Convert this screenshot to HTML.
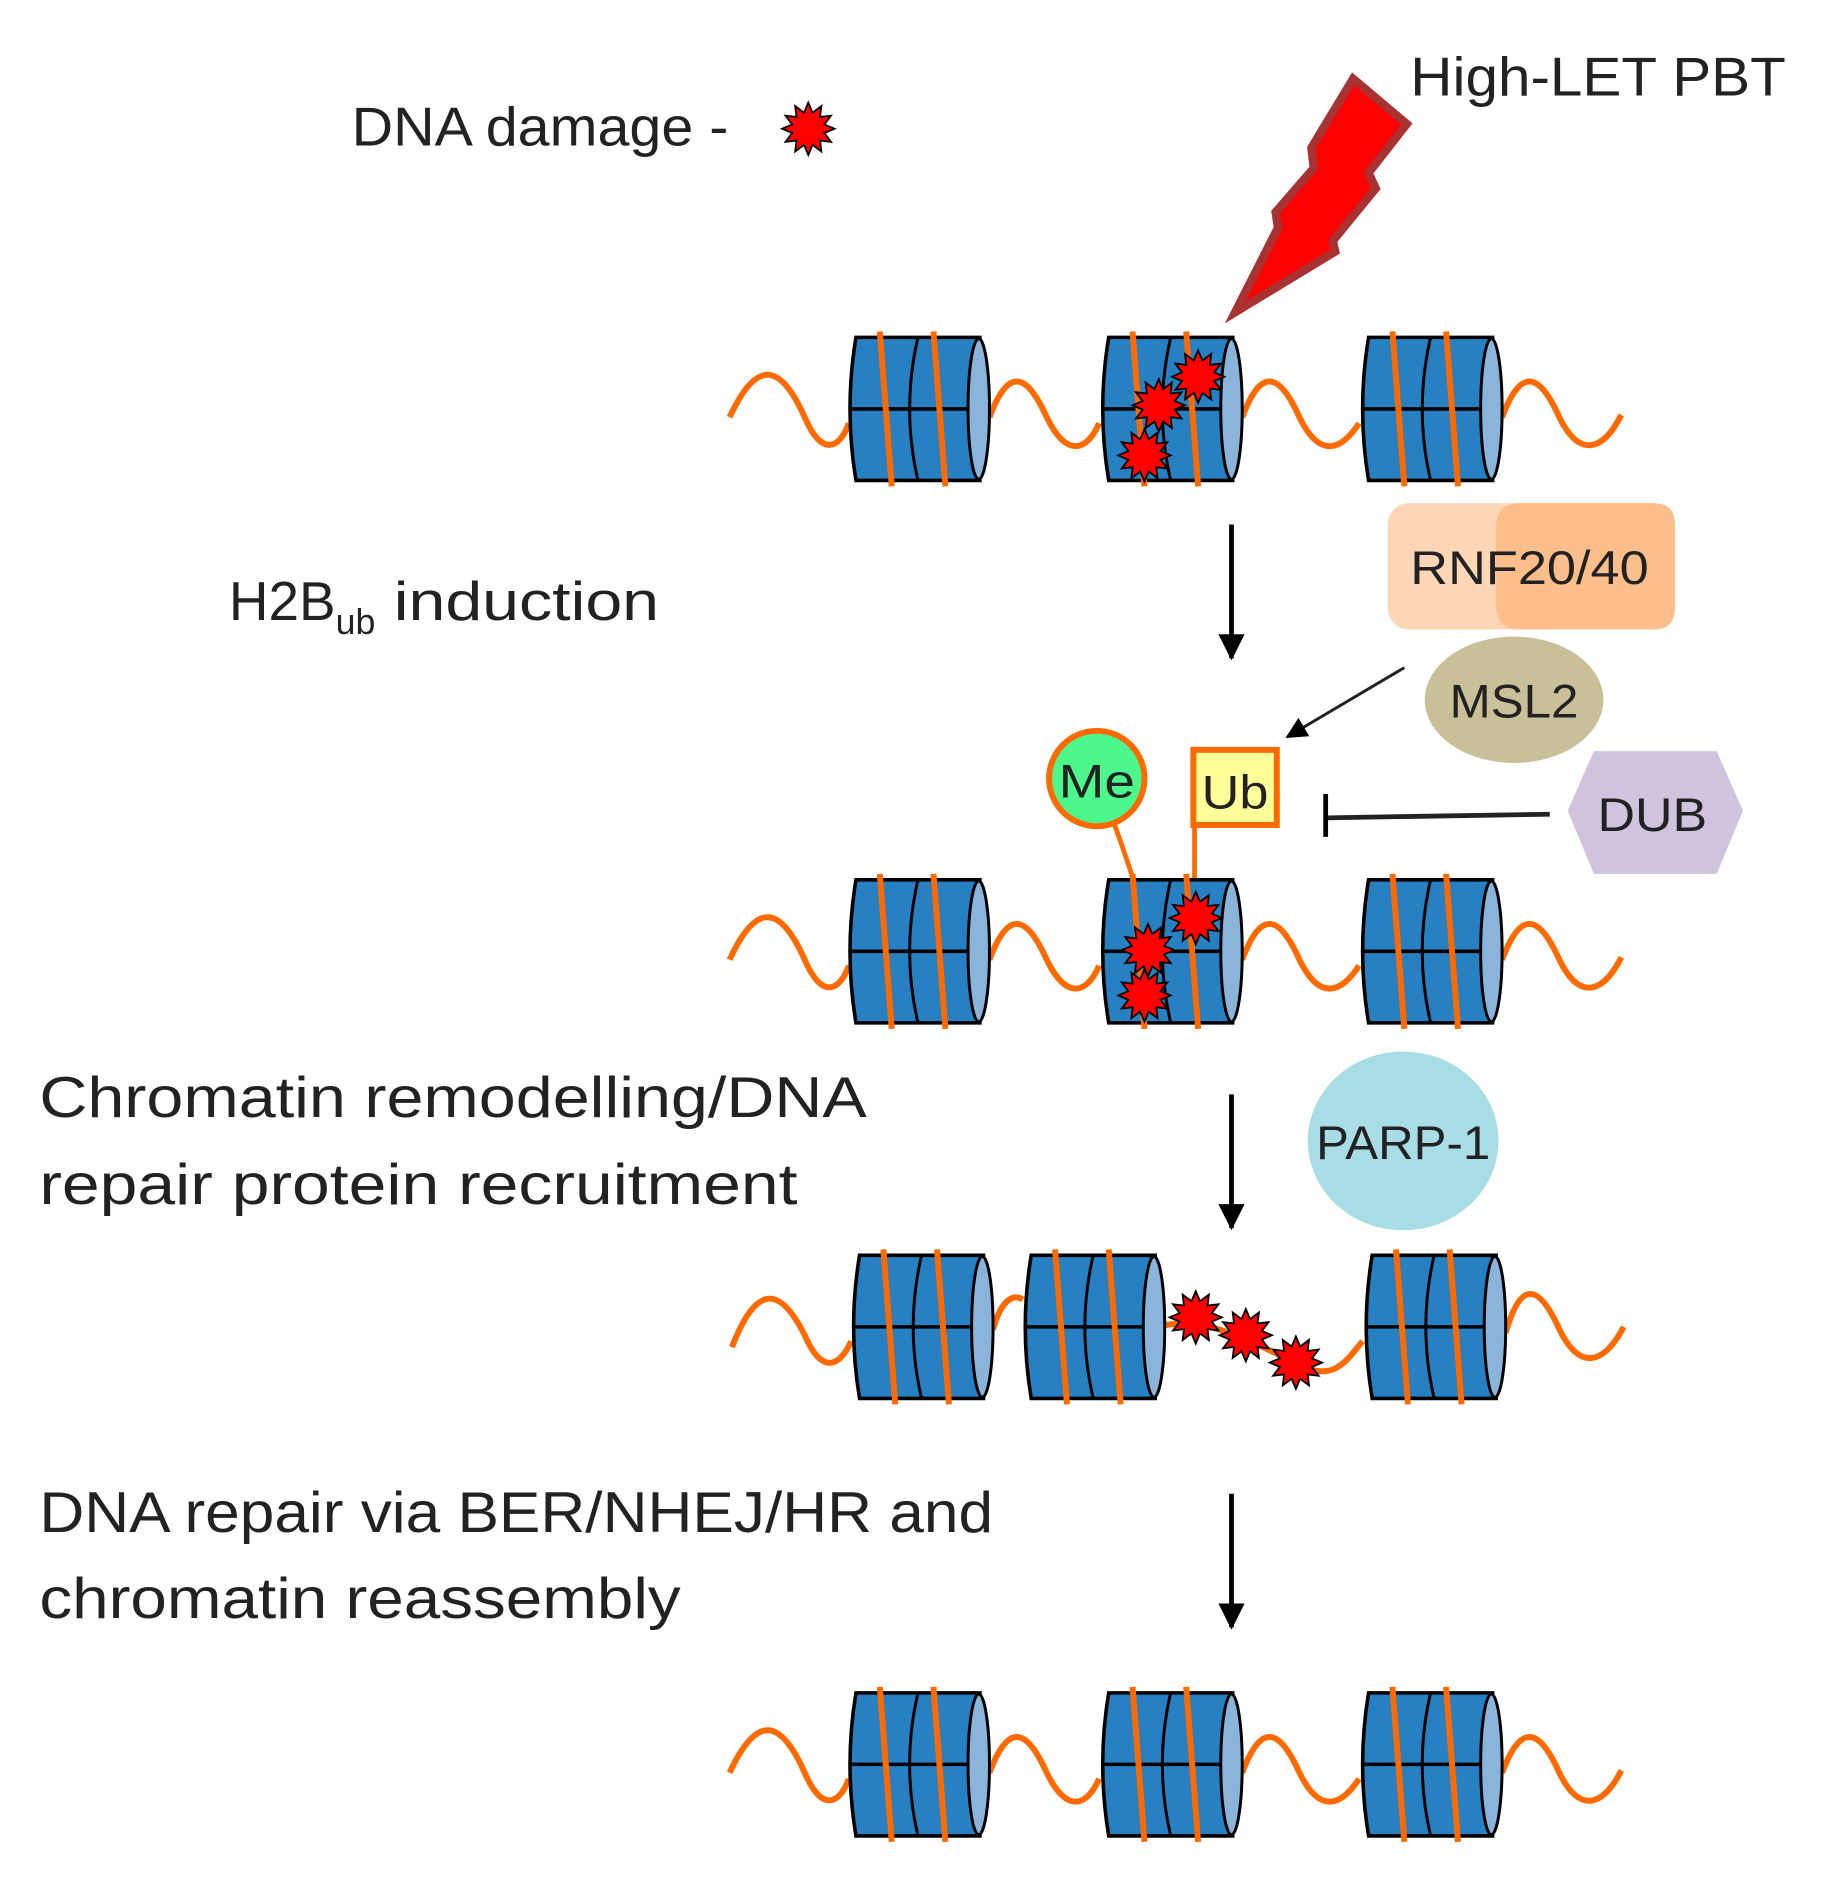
<!DOCTYPE html>
<html><head><meta charset="utf-8"><style>
html,body{margin:0;padding:0;background:#fff;}
svg{display:block;}
text{font-family:"Liberation Sans",sans-serif;fill:#222;}
</style></head><body>
<svg width="1824" height="1886" viewBox="0 0 1530 1582" xmlns="http://www.w3.org/2000/svg">
<defs>
<g id="nuc">
<path d="M8,0 H112 V120 H8 Q-2,60 8,0 Z" fill="#2680c2" stroke="#000" stroke-width="3"/>
<path d="M60,0 Q46,60 60,120" fill="none" stroke="#000" stroke-width="2.5"/>
<line x1="2" y1="60" x2="106" y2="60" stroke="#000" stroke-width="3"/>
<ellipse cx="111" cy="60" rx="9" ry="59" fill="#8ab4da" stroke="#000" stroke-width="2.5"/>
<line x1="28" y1="-5" x2="38" y2="125" stroke="#ff6a00" stroke-width="5"/>
<line x1="73" y1="-5" x2="83" y2="125" stroke="#ff6a00" stroke-width="5"/>
</g>
<polygon id="star" points="22,0 13.5,3.6 19.1,11 9.9,9.9 11,19.1 3.6,13.5 0,22 -3.6,13.5 -11,19.1 -9.9,9.9 -19.1,11 -13.5,3.6 -22,0 -13.5,-3.6 -19.1,-11 -9.9,-9.9 -11,-19.1 -3.6,-13.5 0,-22 3.6,-13.5 11,-19.1 9.9,-9.9 19.1,-11 13.5,-3.6" fill="#f00" stroke="#000" stroke-width="1.5"/>
<marker id="ah" markerWidth="22" markerHeight="26" refX="20" refY="11" orient="auto" markerUnits="userSpaceOnUse" viewBox="0 0 22 22"><path d="M0,0 L22,11 L0,22 Z" fill="#000"/></marker>
<marker id="ah2" markerWidth="18" markerHeight="18" refX="16" refY="9" orient="auto" markerUnits="userSpaceOnUse" viewBox="0 0 18 18"><path d="M0,0 L18,9 L0,18 Z" fill="#000"/></marker>
</defs>

<text x="295" y="122" font-size="46" textLength="316" lengthAdjust="spacingAndGlyphs">DNA damage -</text>
<use href="#star" x="678" y="108"/>
<text x="1183" y="80" font-size="46" textLength="315" lengthAdjust="spacingAndGlyphs">High-LET PBT</text>

<polygon points="1135,66 1180,104 1148,145 1154,158 1118,202 1120,211 1036,262 1072,191 1070,178 1102,141 1100,124" fill="#f00" stroke="#a83232" stroke-width="7" stroke-linejoin="miter"/>

<!-- Row 1 -->
<g fill="none" stroke="#ff6a00" stroke-width="5">
<path d="M612,350 C635,300 655,305 675,350 C690,385 705,375 712,355"/>
<path d="M830,350 C845,310 860,310 878,350 C895,385 912,378 922,355"/>
<path d="M1042,350 C1057,310 1072,310 1090,350 C1107,385 1125,378 1140,355"/>
<path d="M1260,350 C1275,310 1290,310 1308,350 C1325,385 1345,378 1360,348"/>
</g>
<use href="#nuc" x="710" y="283"/><use href="#nuc" x="922" y="283"/><use href="#nuc" x="1140" y="283"/>
<use href="#star" x="1005" y="316"/><use href="#star" x="972" y="340"/><use href="#star" x="960" y="382"/>

<line x1="1033" y1="440" x2="1033" y2="552" stroke="#000" stroke-width="4" marker-end="url(#ah)"/>
<text x="192" y="520" font-size="46">H2B<tspan font-size="30" dy="12">ub</tspan><tspan dy="-12" textLength="238" lengthAdjust="spacingAndGlyphs"> induction</tspan></text>

<rect x="1164" y="422" width="241" height="106" rx="18" fill="#fdd6b5"/>
<path d="M1275,422 H1387 Q1405,422 1405,440 V510 Q1405,528 1387,528 H1275 Q1255,528 1255,508 V442 Q1255,422 1275,422 Z" fill="#fcbf8c"/>
<text x="1283" y="490" font-size="40" text-anchor="middle" textLength="200" lengthAdjust="spacingAndGlyphs">RNF20/40</text>
<ellipse cx="1270" cy="587" rx="75" ry="53" fill="#c9c09a"/>
<text x="1270" y="602" font-size="40" text-anchor="middle" textLength="108" lengthAdjust="spacingAndGlyphs">MSL2</text>
<line x1="1178" y1="560" x2="1080" y2="618" stroke="#222" stroke-width="2.5" marker-end="url(#ah2)"/>

<path d="M935,692 Q945,720 952,742" fill="none" stroke="#ff6a00" stroke-width="4"/>
<circle cx="920" cy="653" r="40" fill="#4cf88c" stroke="#ff6a00" stroke-width="5"/>
<text x="920" y="669" font-size="40" text-anchor="middle" textLength="64" lengthAdjust="spacingAndGlyphs">Me</text>
<line x1="1002" y1="692" x2="1002" y2="762" stroke="#ff6a00" stroke-width="4"/>
<rect x="1001" y="629" width="70" height="63" fill="#ffff99" stroke="#ff6a00" stroke-width="5"/>
<text x="1036" y="678" font-size="40" text-anchor="middle" textLength="56" lengthAdjust="spacingAndGlyphs">Ub</text>
<line x1="1300" y1="683" x2="1112" y2="686" stroke="#222" stroke-width="4"/>
<line x1="1112" y1="666" x2="1112" y2="702" stroke="#000" stroke-width="4"/>
<polygon points="1315,680 1337,630 1440,630 1462,680 1440,733 1337,733" fill="#d0c3de"/>
<text x="1386" y="697" font-size="40" text-anchor="middle" textLength="92" lengthAdjust="spacingAndGlyphs">DUB</text>

<!-- Row 2 -->
<g fill="none" stroke="#ff6a00" stroke-width="5">
<path d="M612,805 C635,755 655,760 675,805 C690,840 705,830 712,810"/>
<path d="M830,805 C845,765 860,765 878,805 C895,840 912,833 922,810"/>
<path d="M1042,805 C1057,765 1072,765 1090,805 C1107,840 1125,833 1140,810"/>
<path d="M1260,805 C1275,765 1290,765 1308,805 C1325,840 1345,833 1360,803"/>
</g>
<use href="#nuc" x="710" y="738"/><use href="#nuc" x="922" y="738"/><use href="#nuc" x="1140" y="738"/>
<use href="#star" x="1003" y="770"/><use href="#star" x="963" y="797"/><use href="#star" x="960" y="835"/>

<line x1="1033" y1="918" x2="1033" y2="1030" stroke="#000" stroke-width="4" marker-end="url(#ah)"/>
<text x="33" y="937" font-size="48" textLength="694" lengthAdjust="spacingAndGlyphs">Chromatin remodelling/DNA</text>
<text x="33" y="1010" font-size="48" textLength="636" lengthAdjust="spacingAndGlyphs">repair protein recruitment</text>
<ellipse cx="1177" cy="957" rx="80" ry="75" fill="#a8dde6"/>
<text x="1177" y="972" font-size="40" text-anchor="middle" textLength="146" lengthAdjust="spacingAndGlyphs">PARP-1</text>

<!-- Row 3 -->
<g fill="none" stroke="#ff6a00" stroke-width="5">
<path d="M614,1130 C635,1075 655,1080 675,1120 C690,1155 705,1145 714,1125"/>
<path d="M833,1115 C840,1090 850,1085 858,1090"/>
<path d="M975,1112 C1010,1105 1040,1120 1090,1145 C1120,1160 1130,1140 1143,1125"/>
<path d="M1263,1118 C1275,1075 1290,1075 1308,1115 C1325,1150 1345,1145 1362,1113"/>
</g>
<use href="#nuc" x="713" y="1053"/><use href="#nuc" x="857" y="1053"/><use href="#nuc" x="1143" y="1053"/>
<use href="#star" x="1003" y="1105"/><use href="#star" x="1045" y="1120"/><use href="#star" x="1087" y="1143"/>

<line x1="1033" y1="1253" x2="1033" y2="1365" stroke="#000" stroke-width="4" marker-end="url(#ah)"/>
<text x="33" y="1285" font-size="48" textLength="800" lengthAdjust="spacingAndGlyphs">DNA repair via BER/NHEJ/HR and</text>
<text x="33" y="1357" font-size="48" textLength="538" lengthAdjust="spacingAndGlyphs">chromatin reassembly</text>

<!-- Row 4 -->
<g fill="none" stroke="#ff6a00" stroke-width="5">
<path d="M612,1487 C635,1437 655,1442 675,1487 C690,1522 705,1512 712,1492"/>
<path d="M830,1487 C845,1447 860,1447 878,1487 C895,1522 912,1515 922,1492"/>
<path d="M1042,1487 C1057,1447 1072,1447 1090,1487 C1107,1522 1125,1515 1140,1492"/>
<path d="M1260,1487 C1275,1447 1290,1447 1308,1487 C1325,1522 1345,1515 1360,1485"/>
</g>
<use href="#nuc" x="710" y="1420"/><use href="#nuc" x="922" y="1420"/><use href="#nuc" x="1140" y="1420"/>
</svg>
</body></html>
